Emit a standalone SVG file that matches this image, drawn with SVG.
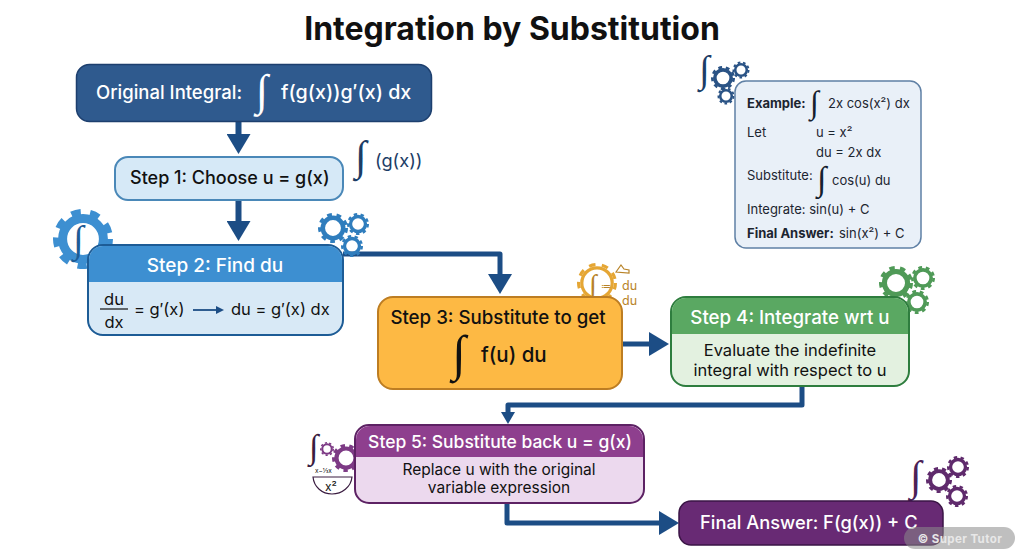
<svg xmlns="http://www.w3.org/2000/svg" width="1024" height="559" viewBox="0 0 1024 559">
<style>
text{font-family:Inter,"Liberation Sans",sans-serif;fill:#111;}
.c{text-anchor:middle}
.b{font-weight:700}
.w{fill:#fff}
.int{font-family:"Liberation Serif",serif}
.ink{fill:#15202e}
.lnk{fill:none;stroke:#1c4d85;stroke-linejoin:round}
.ex{font-size:13px;fill:#1c2530}
</style>
<defs>
<marker id="big" markerUnits="userSpaceOnUse" viewBox="0 0 20 24" markerWidth="20" markerHeight="24" refX="1" refY="12" orient="auto"><path d="M0 0L20 12L0 24z" fill="#1c4d85"/></marker>
<marker id="small" markerUnits="userSpaceOnUse" viewBox="0 0 12 14" markerWidth="12" markerHeight="14" refX="1" refY="7" orient="auto"><path d="M0 0L12 7L0 14z" fill="#1c4d85"/></marker>
<marker id="thin" markerUnits="userSpaceOnUse" viewBox="0 0 8 8" markerWidth="8" markerHeight="8" refX="1" refY="4" orient="auto"><path d="M0 0L8 4L0 8z" fill="#1c4d85"/></marker>
<g id="gear"><circle r="0.68" fill="none" stroke="currentColor" stroke-width="0.3"/><circle r="0.89" fill="none" stroke="currentColor" stroke-width="0.22" pathLength="16" stroke-dasharray="1 1"/></g>
<g id="gearThin"><circle r="0.76" fill="none" stroke="currentColor" stroke-width="0.16"/><circle r="0.92" fill="none" stroke="currentColor" stroke-width="0.16" pathLength="16" stroke-dasharray="1 1"/></g>
</defs>
<rect width="1024" height="559" fill="#fff"/>
<text id="title" class="c b" x="512" y="40" font-size="32">Integration by Substitution</text>

<g id="connectors">
<path class="lnk" stroke-width="6" d="M238.500 121V135" marker-end="url(#big)"/>
<path class="lnk" stroke-width="6" d="M238.500 200V222" marker-end="url(#big)"/>
<path class="lnk" stroke-width="5" d="M343 254H500V275" marker-end="url(#big)"/>
<path class="lnk" stroke-width="5" d="M622 344H650" marker-end="url(#big)"/>
<path class="lnk" stroke-width="5" d="M802 386V405H508V413" marker-end="url(#small)"/>
<path class="lnk" stroke-width="5" d="M507 503V523H660" marker-end="url(#big)"/>
</g>

<g id="original">
<rect x="76.500" y="64.500" width="355" height="57" rx="13" fill="#2f5a8e" stroke="#1d3f6e" stroke-width="1.500"/>
<text class="w" x="96" y="99" font-size="18.500" font-weight="500">Original Integral:</text>
<text class="int w" x="256" y="105" font-size="44">∫</text>
<text class="w" x="281" y="99" font-size="19.700" font-weight="500">f(g(x))g′(x) dx</text>
</g>

<g id="step1">
<rect x="115" y="157" width="228" height="43" rx="13" fill="#d6e9f7" stroke="#4a88b8" stroke-width="2"/>
<text x="130" y="184" font-size="18" font-weight="500">Step 1: Choose u = g(x)</text>
</g>
<g id="note-gx">
<text class="int" x="355" y="170" font-size="42" style="fill:#1c3d66">∫</text>
<text x="375" y="167" font-size="18.200" style="fill:#1c3d66">(g(x))</text>
</g>

<g id="step2">
<use href="#gear" transform="translate(83 239) scale(30)" color="#3d8fd1"/>
<text class="int" x="73" y="252" font-size="38" style="fill:#1d5c96">∫</text>
<use href="#gear" transform="translate(333 228) scale(15)" color="#2f7dbd"/>
<use href="#gear" transform="translate(358 224) scale(11)" color="#2f7dbd"/>
<use href="#gear" transform="translate(352 246) scale(11)" color="#2f7dbd"/>
<rect x="88" y="245" width="255" height="90" rx="15" fill="#d8e9f6" stroke="#1d5c96" stroke-width="2"/>
<path d="M89 282V260a14 14 0 0 1 14-14H328a14 14 0 0 1 14 14V282z" fill="#3d8fd1"/>
<text class="w c" x="215" y="272" font-size="19" font-weight="500">Step 2: Find du</text>
<text class="c" x="114" y="305" font-size="16.500">du</text>
<path d="M100 309H128" stroke="#111" stroke-width="1.200"/>
<text class="c" x="114" y="328" font-size="16.500">dx</text>
<text x="134" y="315" font-size="16.500">= g′(x)</text>
<path d="M193 310H217" stroke="#1c4d85" stroke-width="1.800" fill="none" marker-end="url(#thin)"/>
<text x="231" y="315" font-size="16.500">du = g′(x) dx</text>
</g>

<g id="step3">
<use href="#gearThin" transform="translate(597 283) scale(20)" color="#e5a634"/>
<text class="int" x="589" y="294" font-size="28" style="fill:#b88328">∫</text>
<text x="601" y="290" font-size="10" style="fill:#b88328">≔</text>
<text x="622" y="290" font-size="12.500" style="fill:#b88328">du</text>
<text x="622" y="305" font-size="12.500" style="fill:#b88328">du</text>
<path d="M616 272l5-7 3 4 5 1v3z" fill="none" stroke="#b88328" stroke-width="1.200"/>
<rect x="378" y="297" width="244" height="92" rx="15" fill="#fdb944" stroke="#bd7d22" stroke-width="2"/>
<text class="c" x="498" y="324" font-size="18.700" font-weight="500">Step 3: Substitute to get</text>
<text class="int" x="452" y="370" font-size="50">∫</text>
<text x="481" y="362" font-size="20.500" font-weight="500">f(u) du</text>
</g>

<g id="step4">
<use href="#gear" transform="translate(896 283) scale(17)" color="#4f9a57"/>
<use href="#gear" transform="translate(923 278) scale(12)" color="#4f9a57"/>
<use href="#gear" transform="translate(917 302) scale(12)" color="#4f9a57"/>
<rect x="671" y="297" width="238" height="89" rx="15" fill="#e3f1e0" stroke="#2e7d3e" stroke-width="2"/>
<path d="M672 334V312a14 14 0 0 1 14-14H894a14 14 0 0 1 14 14V334z" fill="#5aa862"/>
<text class="w c" x="790" y="324" font-size="18.700" font-weight="500">Step 4: Integrate wrt u</text>
<text class="c" x="790" y="356" font-size="16.500">Evaluate the indefinite</text>
<text class="c" x="790" y="376" font-size="16.500">integral with respect to u</text>
</g>

<g id="step5">
<text class="int" x="309" y="458" font-size="34" style="fill:#3a1c40">∫</text>
<use href="#gear" transform="translate(327 449) scale(7)" color="#7d3a85"/>
<use href="#gear" transform="translate(346 458) scale(14)" color="#7d3a85"/>
<text x="315" y="473" font-size="6.500">x−⅓x</text>
<path d="M313 477H352C351 487 342 494 332 494S314 487 313 477z" fill="none" stroke="#3a1c40" stroke-width="1.200"/>
<text class="c" x="331" y="491" font-size="12">x²</text>
<rect x="355" y="425" width="289" height="78" rx="14" fill="#ecd9ee" stroke="#5d2264" stroke-width="2"/>
<path d="M356 457V440a14 14 0 0 1 14-14H629a14 14 0 0 1 14 14V457z" fill="#8e3f8e"/>
<text class="w c" x="500" y="448" font-size="17.500" font-weight="500">Step 5: Substitute back u = g(x)</text>
<text class="c" x="499" y="475" font-size="15.500">Replace u with the original</text>
<text class="c" x="499" y="493" font-size="15.500">variable expression</text>
</g>

<g id="final">
<text class="int" x="910" y="490" font-size="42" style="fill:#4b2257">∫</text>
<use href="#gear" transform="translate(939 480) scale(13)" color="#5f2a6c"/>
<use href="#gear" transform="translate(958 467) scale(11)" color="#5f2a6c"/>
<use href="#gear" transform="translate(957 496) scale(11)" color="#5f2a6c"/>
<rect x="679" y="501" width="264" height="44" rx="12" fill="#682a74" stroke="#3a1445" stroke-width="1.500"/>
<text class="w" x="700" y="529" font-size="18.300" font-weight="500">Final Answer: F(g(x)) + C</text>
</g>

<g id="example">
<text class="int" x="699" y="82" font-size="38" style="fill:#1c3d66">∫</text>
<use href="#gear" transform="translate(723 78) scale(12)" color="#2a5385"/>
<use href="#gear" transform="translate(741 70) scale(8.500)" color="#2a5385"/>
<use href="#gear" transform="translate(726 96) scale(8.500)" color="#2a5385"/>
<rect x="735" y="81" width="186" height="167" rx="11" fill="#e9f0f8" stroke="#5f80a5" stroke-width="1.500"/>
<text class="ex b" x="747" y="108">Example:</text>
<text class="int ink" x="810" y="113" font-size="32">∫</text>
<text class="ex" x="828" y="108">2x cos(x²) dx</text>
<text class="ex" x="747" y="137">Let</text>
<text class="ex" x="816" y="137">u = x²</text>
<text class="ex" x="816" y="157">du = 2x dx</text>
<text class="ex" x="747" y="180">Substitute:</text>
<text class="int ink" x="817" y="190" font-size="34">∫</text>
<text class="ex" x="832" y="185">cos(u) du</text>
<text class="ex" x="747" y="214">Integrate: sin(u) + C</text>
<text class="ex b" x="747" y="238">Final Answer:</text>
<text class="ex" x="839" y="238">sin(x²) + C</text>
</g>

<g id="watermark">
<rect x="904" y="527" width="111" height="22" rx="11" fill="#8a8a8a" fill-opacity="0.55"/>
<text class="c b" x="960" y="543" font-size="11.500" style="fill:#e8e8e8;letter-spacing:.4px">© Super Tutor</text>
</g>
</svg>
